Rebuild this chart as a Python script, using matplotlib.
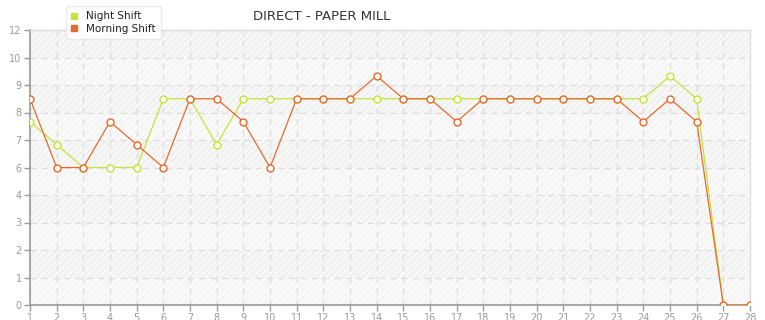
import math

import numpy as np
import matplotlib
matplotlib.use("Agg")
import matplotlib.pyplot as plt
from matplotlib.lines import Line2D

# 数据
days = list(range(1, 29))
night_shift = [8, 7, 6, 6, 6, 9, 9, 7, 9, 9, 9, 9, 9, 9,
               9, 9, 9, 9, 9, 9, 9, 9, 9, 9, 10, 9, 0, 0]
morning_shift = [9, 6, 6, 8, 7, 6, 9, 9, 8, 6, 9, 9, 9, 10,
                 9, 9, 8, 9, 9, 9, 9, 9, 9, 8, 9, 8, 0, 0]
title = "DIRECT - PAPER MILL"

y_max = 12
y_ticks = np.linspace(0, y_max, 11)
y_labels = [str(int(math.floor(v + 1e-9))) for v in y_ticks]

green = "#c8e23a"
orange = "#e8692e"

fig = plt.figure(figsize=(7.65, 3.2), dpi=100)
ax = fig.add_axes([30 / 765, 15 / 320, 720 / 765, 275 / 320])

# 背景：交替条纹
ax.set_facecolor("#fafafa")
plt.rcParams["hatch.linewidth"] = 0.6
for i in range(len(y_ticks) - 1):
    lo, hi = y_ticks[i], y_ticks[i + 1]
    if (len(y_ticks) - 2 - i) % 2 == 0:
        ax.axhspan(lo, hi, facecolor="#f7f7f7", edgecolor="#e9e9e9",
                   hatch="/////", lw=0, zorder=0)
    else:
        ax.axhspan(lo, hi, facecolor="#f9f9f9", edgecolor="#f0f0f0",
                   hatch="/////", lw=0, zorder=0)

ax.plot(days, night_shift, color=green, lw=0.9, marker="o", ms=5,
        mfc="white", mec=green, mew=1, zorder=3)
ax.plot(days, morning_shift, color=orange, lw=0.9, marker="o", ms=5,
        mfc="white", mec=orange, mew=1, zorder=4)

ax.set_xlim(1, 28)
ax.set_ylim(0, y_max)
ax.set_xticks(days)
ax.set_yticks(y_ticks)
ax.set_yticklabels(y_labels)
ax.tick_params(axis="both", labelsize=7, colors="#999999", length=4,
               width=1, pad=2)
ax.tick_params(axis="x", pad=2)

ax.grid(True, color="#dddddd", linestyle=(0, (5, 4)), lw=0.9, zorder=1)
ax.set_axisbelow(True)

for side in ["left", "bottom"]:
    ax.spines[side].set_color("#999999")
    ax.spines[side].set_linewidth(1.2)
for side in ["top", "right"]:
    ax.spines[side].set_color("#dddddd")
    ax.spines[side].set_linewidth(1)

fig.text(322 / 765, 1 - 17 / 320, title, ha="center", va="center",
         fontsize=9.5, color="#333333")

handles = [
    Line2D([], [], color=green, marker="s", ls="none", ms=4),
    Line2D([], [], color=orange, marker="s", ls="none", ms=4),
]
leg = fig.legend(handles, ["Night Shift", "Morning Shift"],
                 loc="upper left", bbox_to_anchor=(66 / 765, 1 - 6 / 320),
                 fontsize=7.5, frameon=True, fancybox=True, shadow=False,
                 handlelength=0.6, handletextpad=0.8, labelspacing=0.25,
                 borderpad=0.5, borderaxespad=0)
leg.get_frame().set_edgecolor("#e6e6e6")
leg.get_frame().set_facecolor("white")
for t in leg.get_texts():
    t.set_color("#222222")

fig.savefig("out.png", dpi=100)
